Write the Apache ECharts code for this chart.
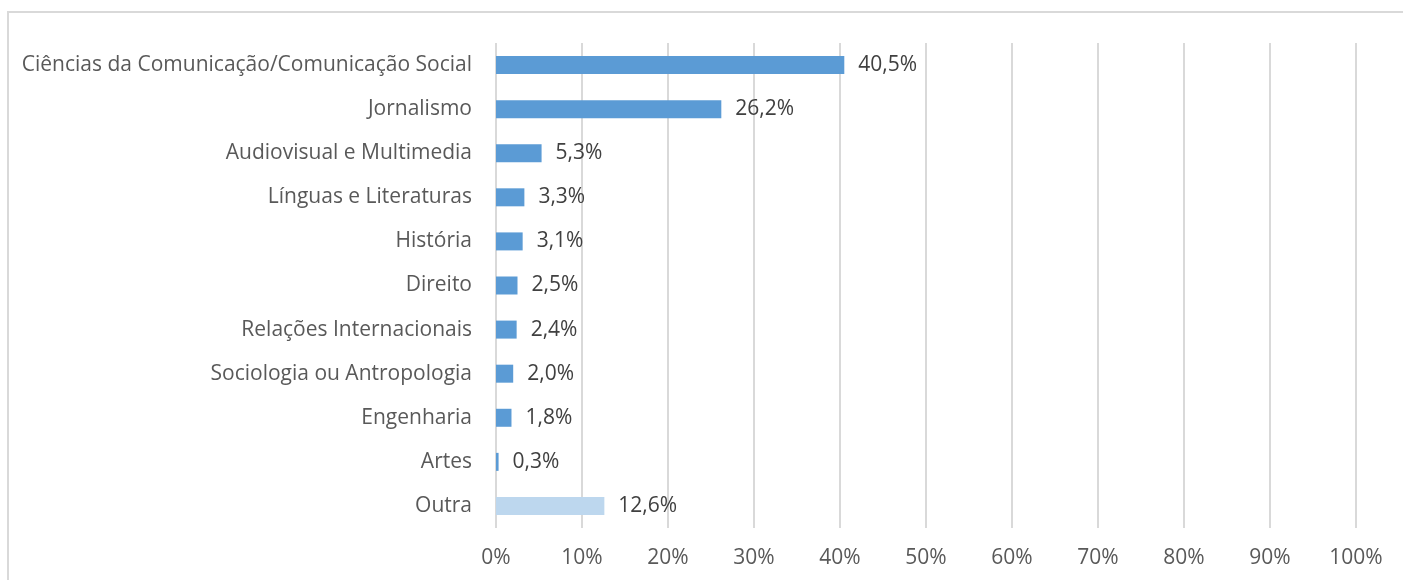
<!DOCTYPE html>
<html><head><meta charset="utf-8">
<script src="https://cdn.jsdelivr.net/npm/echarts@6/dist/echarts.min.js"></script>
<style>html,body{margin:0;padding:0;background:#fff}#c{width:1403px;height:580px}</style>
</head><body><div id="c"></div>
<script>
const categories = ["Ciências da Comunicação/Comunicação Social","Jornalismo","Audiovisual e Multimedia","Línguas e Literaturas","História","Direito","Relações Internacionais","Sociologia ou Antropologia","Engenharia","Artes","Outra"];
const values = [40.5,26.2,5.3,3.3,3.1,2.5,2.4,2.0,1.8,0.3,12.6];
const highlight = ["Outra"];
const tickValues = [0,10,20,30,40,50,60,70,80,90,100];

const chart = echarts.init(document.getElementById('c'), null, {renderer:'canvas'});
const font = '"Open Sans", sans-serif';
chart.setOption({
  animation:false,
  backgroundColor:'#fff',
  graphic:[{type:'rect',shape:{x:8,y:12,width:1500,height:700},style:{fill:'none',stroke:'#d9d9d9',lineWidth:2},silent:true,z:-1}],
  grid:{left:496,right:47,top:43,bottom:52,containLabel:false},
  xAxis:{type:'value',min:0,max:100,interval:10,
    axisLine:{show:false},axisTick:{show:false},
    splitLine:{show:true,lineStyle:{color:'#d9d9d9',width:2}},
    axisLabel:{formatter:v=>v+'%',color:'#595959',fontSize:21,fontFamily:font,margin:20}},
  yAxis:{type:'category',inverse:true,data:categories,
    axisLine:{show:false},axisTick:{show:false},
    axisLabel:{color:'#595959',fontSize:21,fontFamily:font,margin:24,padding:[2,0,0,0]}},
  series:[{type:'bar',barWidth:18,
    data:values.map((v,i)=>({value:v,itemStyle:{color:highlight.includes(categories[i])?'#bdd7ee':'#5b9bd5'}})),
    label:{show:true,position:'right',distance:14,color:'#404040',fontSize:21,fontFamily:font,padding:[2,0,0,0],
      formatter:p=>p.value.toFixed(1).replace('.',',')+'%'}}]
});
</script></body></html>
